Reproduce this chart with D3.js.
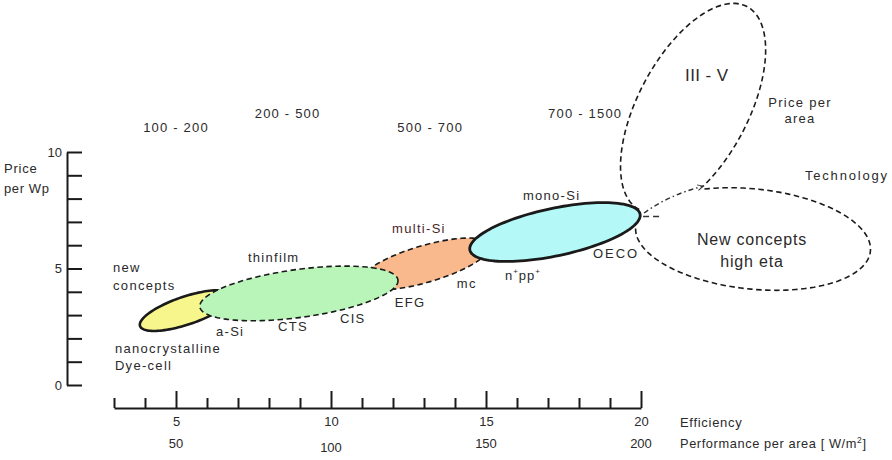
<!DOCTYPE html>
<html>
<head>
<meta charset="utf-8">
<script src="https://cdn.jsdelivr.net/npm/d3@7"></script>
<style>
body { margin: 0; background: #fff; }
text { font-family: "Liberation Sans", Arial, Helvetica, sans-serif; fill: #2a2a2a; }
</style>
</head>
<body>
<script>
// axis values
var effTicks = d3.range(3, 21);
var effLabels = [5, 10, 15, 20];
var perfLabels = [50, 100, 150, 200];
var priceTicks = d3.range(0, 11);
var priceLabels = [0, 5, 10];

// price per area bands (text above the plot)
var bandNames = ["100 - 200", "200 - 500", "500 - 700", "700 - 1500"];
var bandEff = [5.0, 8.6, 13.2, 18.2];
var bandPrice = [10.86, 11.46, 10.86, 11.46];

// technologies as ellipses: tip to tip in (efficiency, price), plus half width in price units
var techNames = ["III - V", "New concepts", "nanocrystalline", "multi-Si", "thinfilm", "mono-Si"];
var techFrom = [[19.94, 7.53], [19.83, 6.79], [3.84, 2.53], [10.94, 4.38], [5.77, 3.35], [14.48, 5.79]];
var techTo = [[23.42, 16.24], [27.4, 5.74], [6.81, 3.86], [15.13, 6.01], [12.16, 4.51], [19.97, 7.34]];
var techSpread = [2.36, 2.15, 0.6, 0.79, 1.03, 1.02];

// annotation texts at (efficiency, price)
var noteText = ["new", "concepts", "nanocrystalline", "Dye-cell", "a-Si", "thinfilm", "CTS", "CIS",
  "EFG", "multi-Si", "mc", "mono-Si", "OECO", "Technology"];
var noteEff = [2.97, 2.97, 3.03, 3.03, 6.29, 7.32, 8.29, 10.29, 12.06, 11.97, 14.06, 16.19, 18.45, 25.29];
var notePrice = [4.85, 4.08, 1.37, 0.64, 2.10, 5.28, 2.32, 2.66, 3.35, 6.52, 4.16, 7.94, 5.45, 8.80];

var width = 892, height = 460;

var svg = d3.select("body").append("svg")
  .attr("width", width)
  .attr("height", height);

var x = d3.scaleLinear().domain([3, 20]).range([114, 641]);
var y = d3.scaleLinear().domain([0, 10]).range([385, 152]);

// ellipse styles, same order as techNames
var techStyle = [
  {fill: "none", stroke: 1.6, dash: "5.5,3.5"},
  {fill: "none", stroke: 1.6, dash: "5.5,3.5"},
  {fill: "#f6f68c", stroke: 2.6, dash: null},
  {fill: "#f9b98d", stroke: 1.6, dash: "5.5,3.5"},
  {fill: "#b9f4b9", stroke: 1.6, dash: "5.5,3.5"},
  {fill: "#b4f8f8", stroke: 2.8, dash: null}
];
// parts of the two big outline ellipses that are drawn (angles in degrees)
var arcRange = [[180, 484], [243, 540], [0, 360], [0, 360], [0, 360], [0, 360]];

function geom(i) {
  var x1 = x(techFrom[i][0]), y1 = y(techFrom[i][1]);
  var x2 = x(techTo[i][0]), y2 = y(techTo[i][1]);
  var a = Math.hypot(x2 - x1, y2 - y1) / 2;
  return {
    cx: (x1 + x2) / 2, cy: (y1 + y2) / 2, a: a,
    b: y(0) - y(techSpread[i]),
    ux: (x2 - x1) / (2 * a), uy: (y2 - y1) / (2 * a)
  };
}
function pointAt(g, deg) {
  var t = deg * Math.PI / 180;
  var c = g.a * Math.cos(t), s = g.b * Math.sin(t);
  return [g.cx + c * g.ux - s * g.uy, g.cy + c * g.uy + s * g.ux];
}
function arcPoints(g, d0, d1) {
  return d3.range(0, 121).map(function(k) { return pointAt(g, d0 + (d1 - d0) * k / 120); });
}

var line = d3.line();

// arrow head for the connector
svg.append("defs").append("marker")
  .attr("id", "arrow")
  .attr("viewBox", "0 -5 10 10")
  .attr("refX", 9).attr("refY", 0)
  .attr("markerWidth", 7).attr("markerHeight", 7)
  .attr("markerUnits", "userSpaceOnUse")
  .attr("orient", "auto")
  .append("path")
  .attr("d", "M1,-4L9,0L1,4")
  .attr("fill", "none")
  .attr("stroke", "#333")
  .attr("stroke-width", 1.4);

var gEll = svg.append("g");
techNames.forEach(function(name, i) {
  var g = geom(i);
  var full = arcRange[i][1] - arcRange[i][0] >= 360;
  var pts = arcPoints(g, arcRange[i][0], arcRange[i][1]);
  gEll.append("path")
    .attr("d", full ? line(pts) + "Z" : line(pts))
    .attr("fill", techStyle[i].fill)
    .attr("stroke", "#1a1a1a")
    .attr("stroke-width", techStyle[i].stroke)
    .attr("stroke-dasharray", techStyle[i].dash);
});

// dash-dot connector from the mono-Si tip to where III-V meets new concepts
var start = [x(techTo[5][0]) + 4, y(techTo[5][1]) - 1];
var end = pointAt(geom(0), 124);
svg.append("path")
  .attr("d", "M" + start + "Q" + [(start[0] + end[0]) / 2 - 4, (start[1] + end[1]) / 2 - 5] + " " + end)
  .attr("fill", "none")
  .attr("stroke", "#333")
  .attr("stroke-width", 1.4)
  .attr("stroke-dasharray", "5,3,1.5,3")
  .attr("marker-end", "url(#arrow)");
svg.append("path")
  .attr("d", line([[x(techTo[5][0]) + 3, y(techTo[5][1]) + 2.5], [x(techTo[5][0]) + 19, y(techTo[5][1]) + 2.5]]))
  .attr("stroke", "#333")
  .attr("stroke-width", 1.4)
  .attr("stroke-dasharray", "6,4");

// y axis: ticks pointing right, labels left
var yAxis = d3.axisLeft(y)
  .tickValues(priceTicks)
  .tickSizeInner(-15)
  .tickSizeOuter(0)
  .tickPadding(5)
  .tickFormat(function(d) { return priceLabels.indexOf(d) >= 0 ? d : ""; });
var gy = svg.append("g")
  .attr("transform", "translate(67,0)")
  .call(yAxis);

// x axis: ticks pointing up, labels below
var xAxis = d3.axisBottom(x)
  .tickValues(effTicks)
  .tickSizeInner(-10)
  .tickSizeOuter(0)
  .tickPadding(9)
  .tickFormat(function(d) { return effLabels.indexOf(d) >= 0 ? d : ""; });
var gx = svg.append("g")
  .attr("transform", "translate(0,408)")
  .call(xAxis);
gx.selectAll(".tick line")
  .attr("y2", function(d) { return effLabels.indexOf(d) >= 0 ? -17 : -10; });

[gx, gy].forEach(function(g) {
  g.select(".domain").attr("stroke", "#1a1a1a").attr("stroke-width", 2);
  g.selectAll(".tick line").attr("stroke", "#1a1a1a").attr("stroke-width", 2);
  g.selectAll(".tick text")
    .attr("font-family", "Liberation Sans, Arial, sans-serif")
    .attr("font-size", 13)
    .attr("fill", "#2a2a2a");
});

// performance per area labels under the efficiency labels
svg.append("g").selectAll("text")
  .data(perfLabels)
  .enter().append("text")
  .attr("x", function(d) { return x(d / 10); })
  .attr("y", function(d) { return d === 100 ? 452 : 448; })
  .attr("text-anchor", "middle")
  .attr("font-size", 13)
  .text(function(d) { return d; });

// axis titles
svg.append("text").attr("x", 4).attr("y", 173).attr("font-size", 13).attr("letter-spacing", 0.8).text("Price");
svg.append("text").attr("x", 4).attr("y", 193).attr("font-size", 13).attr("letter-spacing", 0.6).text("per Wp");
svg.append("text").attr("x", 680).attr("y", 427).attr("font-size", 13).attr("letter-spacing", 0.7).text("Efficiency");
var perf = svg.append("text").attr("x", 680).attr("y", 448).attr("font-size", 12.8).attr("letter-spacing", 0.6);
perf.append("tspan").text("Performance per area [ W/m");
perf.append("tspan").attr("dy", -5).attr("font-size", 8.5).text("2");
perf.append("tspan").attr("dy", 5).text("]");

// price bands
svg.append("g").selectAll("text")
  .data(bandNames)
  .enter().append("text")
  .attr("x", function(d, i) { return x(bandEff[i]); })
  .attr("y", function(d, i) { return y(bandPrice[i]); })
  .attr("text-anchor", "middle")
  .attr("font-size", 13)
  .attr("letter-spacing", 1.2)
  .text(function(d) { return d; });

// small annotations
svg.append("g").selectAll("text")
  .data(noteText)
  .enter().append("text")
  .attr("x", function(d, i) { return x(noteEff[i]); })
  .attr("y", function(d, i) { return y(notePrice[i]); })
  .attr("font-size", 13)
  .attr("letter-spacing", function(d) { return d === "OECO" ? 2 : d === "Technology" ? 1.8 : 1.3; })
  .style("fill", function(d) { return d === "multi-Si" ? "#4a2626" : null; })
  .text(function(d) { return d; });

// n+pp+
var npp = svg.append("text").attr("x", x(15.61)).attr("y", y(4.51)).attr("font-size", 13).attr("letter-spacing", 1);
npp.append("tspan").text("n");
npp.append("tspan").attr("dy", -6).attr("font-size", 8).text("+");
npp.append("tspan").attr("dy", 6).text("pp");
npp.append("tspan").attr("dy", -6).attr("font-size", 8).text("+");

// big labels inside the outline ellipses
svg.append("text").attr("x", x(21.42)).attr("y", y(13.05)).attr("font-size", 17).attr("letter-spacing", 0.4).text(techNames[0]);
svg.append("text").attr("x", x(23.58)).attr("y", y(6.01)).attr("text-anchor", "middle")
  .attr("font-size", 16).attr("letter-spacing", 0.8).text(techNames[1]);
svg.append("text").attr("x", x(23.58)).attr("y", y(5.06)).attr("text-anchor", "middle")
  .attr("font-size", 16).attr("letter-spacing", 0.8).text("high eta");
svg.append("text").attr("x", x(25.13)).attr("y", y(11.93)).attr("text-anchor", "middle")
  .attr("font-size", 13).attr("letter-spacing", 1.3).text("Price per");
svg.append("text").attr("x", x(25.13)).attr("y", y(11.24)).attr("text-anchor", "middle")
  .attr("font-size", 13).attr("letter-spacing", 1.3).text("area");
</script>
</body>
</html>
